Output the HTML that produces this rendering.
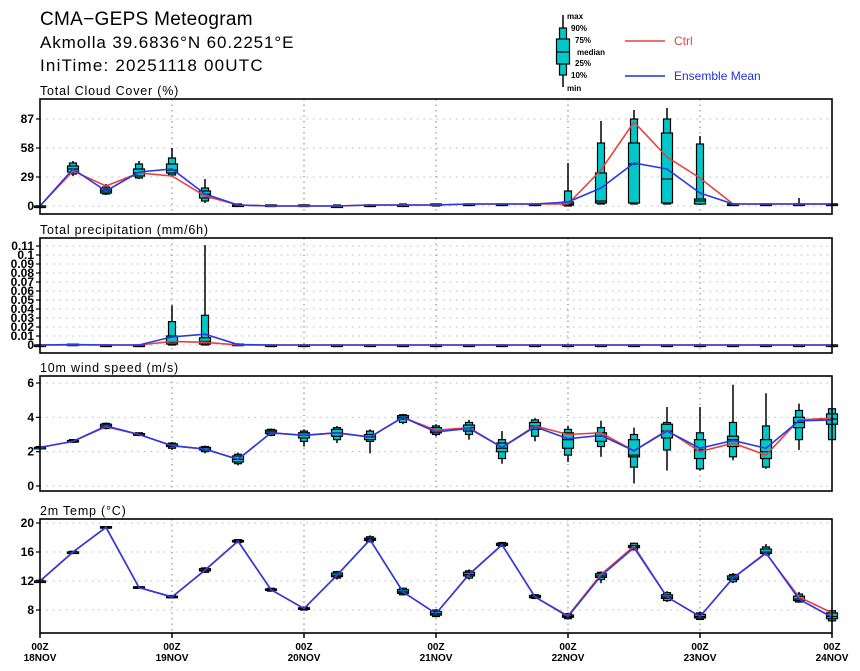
<!DOCTYPE html>
<html><head><meta charset="utf-8"><style>
body{margin:0;background:#fff;}
svg{display:block;font-family:"Liberation Sans",sans-serif;}
</style></head><body>
<svg id="chart" width="860" height="671" viewBox="0 0 860 671" xmlns="http://www.w3.org/2000/svg">
<text x="40" y="25" font-size="19" letter-spacing="0.3">CMA−GEPS Meteogram</text>
<text x="40" y="48" font-size="17" letter-spacing="0.9">Akmolla 39.6836°N 60.2251°E</text>
<text x="40" y="71" font-size="17" letter-spacing="1.2">IniTime: 20251118 00UTC</text>
<g>
<line x1="563" y1="15" x2="563" y2="87" stroke="#000" stroke-width="1.5"/>
<rect x="559.5" y="28" width="7" height="47" fill="#00c8c8" stroke="#000" stroke-width="1.2"/>
<rect x="556.5" y="39" width="13" height="25" fill="#00c8c8" stroke="#000" stroke-width="1.2"/>
<line x1="556.5" y1="52" x2="569.5" y2="52" stroke="#000" stroke-width="1.2"/>
<g font-size="8" font-weight="bold">
<text x="567" y="19">max</text><text x="571" y="31">90%</text><text x="575" y="43">75%</text>
<text x="577" y="55">median</text><text x="575" y="66">25%</text><text x="571" y="78">10%</text><text x="567" y="91">min</text>
</g>
<line x1="625" y1="41" x2="665" y2="41" stroke="#e84040" stroke-width="1.5"/>
<text x="674" y="45" font-size="12" fill="#e84040">Ctrl</text>
<line x1="625" y1="76" x2="665" y2="76" stroke="#2030e0" stroke-width="1.5"/>
<text x="674" y="80" font-size="12" fill="#2030e0">Ensemble Mean</text>
</g>
</svg>
<script>
const times = ["18NOV","","","","19NOV","","","","20NOV","","","","21NOV","","","","22NOV","","","","23NOV","","","","24NOV"];
const cloudCtrl = [0,35,20,33,30,10,1,0,0,0,1,1,1,2,2,2,2,36,84,49,28,2,2,2,2];
const cloudMean = [0,37,15,34,37,12,1,0,0,0,1,1,1,2,2,2,4,18,43,37,13,2,2,2,2];
const cloudBox = [[0,0,0,0,0,0,0],[30,32,34,37,40,43,45],[11,12,13,15,17,19,22],[27,28,30,33,37,42,45],[30,31,33,36,42,48,58],[3,5,8,12,15,18,27],[0,0,0,1,1,2,2],[0,0,0,0,1,1,1],[0,0,0,0,1,1,1],[0,0,0,0,0,1,1],[0,0,1,1,1,1,2],[0,0,1,1,1,2,2],[0,0,1,1,2,2,2],[1,1,1,2,2,2,2],[1,1,1,2,2,2,2],[1,1,1,2,2,2,2],[0,0,1,2,4,15,43],[2,2,3,5,33,63,85],[2,2,3,42,63,87,96],[2,2,3,27,73,87,98],[1,2,2,5,7,62,70],[1,1,2,2,2,2,2],[1,1,2,2,2,2,2],[1,1,2,2,2,2,8],[1,1,2,2,2,2,2]];
const precCtrl = [0,0,0,0,0.004,0.003,0,0,0,0,0,0,0,0,0,0,0,0,0,0,0,0,0,0,0];
const precMean = [0,0.0005,0,0,0.009,0.012,0.0005,0,0,0,0,0,0,0,0,0,0,0,0,0,0,0,0,0,0];
const precBox = [[0,0,0,0,0,0,0],[0,0,0,0,0.001,0.001,0.001],[0,0,0,0,0,0,0],[0,0,0,0,0,0,0],[0,0,0.001,0.003,0.01,0.026,0.044],[0,0,0.001,0.004,0.008,0.033,0.111],[0,0,0,0,0.001,0.001,0.002],[0,0,0,0,0,0,0],[0,0,0,0,0,0,0],[0,0,0,0,0,0,0],[0,0,0,0,0,0,0],[0,0,0,0,0,0,0],[0,0,0,0,0,0,0],[0,0,0,0,0,0,0],[0,0,0,0,0,0,0],[0,0,0,0,0,0,0],[0,0,0,0,0,0,0],[0,0,0,0,0,0,0],[0,0,0,0,0,0,0],[0,0,0,0,0,0,0],[0,0,0,0,0,0,0],[0,0,0,0,0,0,0],[0,0,0,0,0,0,0],[0,0,0,0,0,0,0],[0,0,0,0,0,0,0]];
const windCtrl = [2.25,2.6,3.45,3.0,2.35,2.15,1.55,3.1,2.95,3.1,2.85,4.0,3.25,3.4,2.25,3.5,3.0,3.1,2.05,3.25,2.0,2.5,1.8,3.85,3.95];
const windMean = [2.25,2.6,3.5,3.0,2.35,2.15,1.55,3.1,2.95,3.1,2.85,4.0,3.15,3.35,2.25,3.45,2.75,2.95,2.05,3.2,2.2,2.65,2.2,3.8,3.85];
const windBox = [[2.2,2.2,2.25,2.25,2.25,2.3,2.3],[2.5,2.55,2.6,2.6,2.65,2.7,2.7],[3.3,3.35,3.4,3.5,3.6,3.65,3.7],[2.9,2.95,3.0,3.0,3.05,3.1,3.1],[2.1,2.2,2.3,2.35,2.45,2.5,2.55],[1.9,2.0,2.1,2.15,2.25,2.3,2.35],[1.2,1.3,1.4,1.55,1.75,1.85,1.95],[2.9,2.95,3.05,3.15,3.25,3.3,3.35],[2.3,2.6,2.8,2.95,3.1,3.2,3.3],[2.5,2.7,2.9,3.1,3.3,3.4,3.5],[1.9,2.6,2.7,2.85,3.0,3.2,3.3],[3.6,3.7,3.9,4.0,4.1,4.15,4.2],[2.9,3.0,3.1,3.2,3.4,3.5,3.6],[2.7,3.0,3.2,3.4,3.55,3.7,3.85],[1.3,1.6,2.0,2.2,2.5,2.7,3.2],[2.6,2.9,3.3,3.5,3.7,3.85,3.95],[1.4,1.8,2.2,2.7,3.1,3.3,3.5],[1.7,2.3,2.6,2.9,3.1,3.4,3.8],[0.15,1.1,1.7,1.8,2.7,3.0,3.4],[0.9,2.1,2.8,3.2,3.6,3.7,4.6],[0.9,1.0,1.6,2.1,2.7,3.1,4.6],[1.5,1.7,2.3,2.7,2.9,3.7,5.9],[1.0,1.1,1.6,2.0,2.7,3.5,5.4],[2.1,2.7,3.4,3.7,4.0,4.4,4.8],[2.7,2.7,3.6,3.9,4.2,4.5,4.5]];
const tempCtrl = [12,16,19.4,11.1,9.8,13.5,17.5,10.8,8.2,12.8,17.7,10.5,7.5,12.9,17.0,9.8,7.2,12.9,16.8,9.8,7.1,12.4,15.8,9.8,7.6];
const tempMean = [12,16,19.4,11.1,9.8,13.5,17.5,10.8,8.2,12.8,17.7,10.5,7.5,12.9,17.0,9.8,7.1,12.7,16.6,9.8,7.1,12.4,15.9,9.5,7.0];
const tempBox = [[11.9,11.9,12,12,12,12.1,12.1],[15.9,15.9,16,16,16,16.1,16.1],[19.3,19.3,19.4,19.4,19.5,19.5,19.5],[10.9,11.0,11.0,11.1,11.2,11.2,11.3],[9.6,9.7,9.7,9.8,9.9,10.0,10.0],[13.1,13.2,13.4,13.5,13.7,13.8,13.9],[17.3,17.3,17.4,17.5,17.6,17.7,17.7],[10.6,10.6,10.7,10.8,10.9,11.0,11.0],[8.0,8.0,8.1,8.2,8.3,8.4,8.4],[12.2,12.4,12.6,12.8,13.1,13.3,13.4],[17.3,17.4,17.6,17.7,17.9,18.1,18.3],[10.0,10.1,10.3,10.5,10.8,11.0,11.1],[7.0,7.1,7.3,7.5,7.8,8.0,8.1],[12.2,12.4,12.7,12.9,13.2,13.4,13.6],[16.7,16.8,16.9,17.0,17.2,17.3,17.4],[9.5,9.6,9.7,9.8,10.0,10.1,10.2],[6.7,6.8,7.0,7.1,7.3,7.5,7.6],[11.7,12.2,12.5,12.7,13.0,13.2,13.3],[16.2,16.3,16.6,16.7,16.9,17.2,17.3],[9.1,9.3,9.6,9.8,10.1,10.4,10.6],[6.6,6.7,6.9,7.1,7.4,7.6,7.8],[11.7,11.9,12.2,12.4,12.7,12.9,13.1],[15.5,15.6,15.8,16.0,16.4,16.7,17.1],[9.0,9.1,9.3,9.5,9.9,10.2,10.5],[6.4,6.5,6.8,7.1,7.6,7.9,8.0]];
const cloudTicks = [0,29,58,87];
const precTicks = [0,0.01,0.02,0.03,0.04,0.05,0.06,0.07,0.08,0.09,0.1,0.11];
const windTicks = [0,2,4,6];
const tempTicks = [8,12,16,20];

const NS = "http://www.w3.org/2000/svg";
const svg = document.getElementById('chart');
const X0 = 40, X1 = 832;
function xScale(i){ return X0 + (X1 - X0) * i / (times.length - 1); }
function mk(tag, attrs, parent){
  const e = document.createElementNS(NS, tag);
  for (const k in attrs) e.setAttribute(k, attrs[k]);
  (parent || svg).appendChild(e);
  return e;
}
function fmt(v){ return (Math.round(v*1000)/1000).toString(); }

function panel(name, title, top, bottom, y0v, y0px, y1v, y1px, ticks, ctrl, mean, box, tickFont){
  const ys = v => y0px + (v - y0v) * (y1px - y0px) / (y1v - y0v);
  const g = mk('g', {});
  
  
  const t = mk('text', {x: 40, y: top - 4, 'font-size': 12.5, 'letter-spacing': 0.8}, g);
  t.textContent = title;
  
  
  ticks.forEach(v => {
    const y = ys(v);
    const gl = mk('line', {x1: X0, x2: X1, y1: y, y2: y, stroke: '#bbb', 'stroke-width': 1, 'stroke-dasharray': '1.5,5'}, g);
    
    
    mk('line', {x1: X0 - 4, x2: X0, y1: y, y2: y, stroke: '#000', 'stroke-width': 1.2}, g);
    const lb = mk('text', {x: X0 - 6, y: y + 4, 'font-size': tickFont, 'font-weight': 'bold', 'text-anchor': 'end'}, g);
    lb.textContent = fmt(v);
    
    
  });
  for (let i = 4; i < times.length - 1; i += 4) {
    const x = xScale(i);
    mk('line', {x1: x, x2: x, y1: top, y2: bottom, stroke: '#aaa', 'stroke-width': 1.5, 'stroke-dasharray': '1.5,4'}, g);
  }
  box.forEach((b, i) => {
    const x = xScale(i);
    const bg = mk('g', {}, g);
    
    
    mk('line', {x1: x, x2: x, y1: ys(b[0]), y2: ys(b[6]), stroke: '#000', 'stroke-width': 1.5}, bg);
    const h1 = Math.max(ys(b[1]) - ys(b[5]), 1.5);
    mk('rect', {x: x - 3.5, y: ys(b[5]), width: 7, height: h1, fill: '#00c8c8', stroke: '#000', 'stroke-width': 1.2}, bg);
    const h2 = Math.max(ys(b[2]) - ys(b[4]), 1.5);
    mk('rect', {x: x - 5.5, y: ys(b[4]), width: 11, height: h2, fill: '#00c8c8', stroke: '#000', 'stroke-width': 1.2}, bg);
    mk('line', {x1: x - 5.5, x2: x + 5.5, y1: ys(b[3]), y2: ys(b[3]), stroke: '#000', 'stroke-width': 1.2}, bg);
  });
  const pc = mk('polyline', {points: ctrl.map((v,i) => xScale(i) + ',' + ys(v)).join(' '), fill: 'none', stroke: '#e84040', 'stroke-width': 1.6}, g);
  
  
  const pm = mk('polyline', {points: mean.map((v,i) => xScale(i) + ',' + ys(v)).join(' '), fill: 'none', stroke: '#2a3ae0', 'stroke-width': 1.6}, g);
  
  
  mk('rect', {x: X0, y: top, width: X1 - X0, height: bottom - top, fill: 'none', stroke: '#000', 'stroke-width': 1.6}, g);
}
panel('cloud', 'Total Cloud Cover (%)', 99, 214, 0, 206, 87, 119, cloudTicks, cloudCtrl, cloudMean, cloudBox, 12);
panel('precip', 'Total precipitation (mm/6h)', 238, 353, 0, 345, 0.11, 246, precTicks, precCtrl, precMean, precBox, 12);
panel('wind', '10m wind speed (m/s)', 376, 491, 0, 486, 6, 383, windTicks, windCtrl, windMean, windBox, 12);
panel('temp', '2m Temp (°C)', 519, 633, 8, 610, 20, 523, tempTicks, tempCtrl, tempMean, tempBox, 12);

times.forEach((d, i) => {
  if (i % 4 !== 0) return;
  const x = xScale(i);
  mk('line', {x1: x, x2: x, y1: 633, y2: 638, stroke: '#000', 'stroke-width': 1.5});
  const a = mk('text', {x: x, y: 650, 'font-size': 10, 'font-weight': 'bold', 'text-anchor': 'middle'});
  a.textContent = '00Z';
  
  
  const b = mk('text', {x: x, y: 661, 'font-size': 10, 'font-weight': 'bold', 'text-anchor': 'middle'});
  b.textContent = d;
  
  
});
</script>
</body></html>
